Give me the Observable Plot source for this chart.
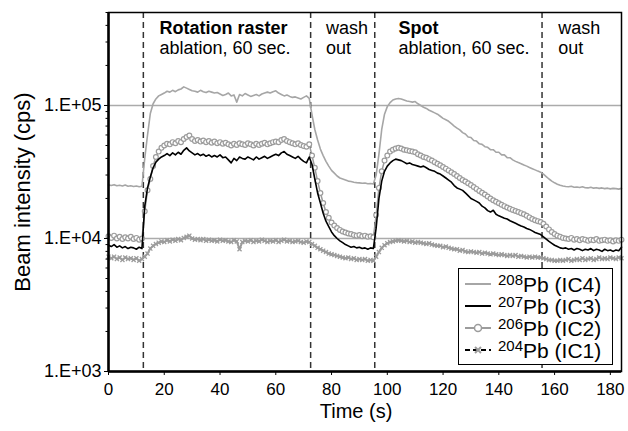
<!DOCTYPE html>
<html>
<head>
<meta charset="utf-8">
<script src="https://cdn.jsdelivr.net/npm/d3@7"></script>
<script src="https://cdn.jsdelivr.net/npm/@observablehq/plot@0.6"></script>
<style>
  body { margin: 0; background: #fff; }
  #wrap { position: relative; width: 628px; height: 431px; font-family: "Liberation Sans", Arial, sans-serif; }
  #legend { position: absolute; left: 458px; top: 268px; width: 155px; height: 97px; box-sizing: border-box;
            border: 1.5px solid #000; background: #fff; padding-top: 4px; }
  .lrow { display: flex; align-items: center; height: 22px; font-size: 21px; line-height: 21px; color: #000; white-space: nowrap; }
  .lrow svg { flex: none; margin-left: 3px; margin-right: 4px; }
  .lrow sup { font-size: 15px; vertical-align: 7px; line-height: 0; }
</style>
</head>
<body>
<div id="wrap"></div>
<script>
// time axis: one reading per second, 0..184 s
const time = d3.range(0, 185);

// signals in thousands of cps (kcps)
const pb208 = [
  25.3, 25.0, 25.4, 24.9, 25.1, 24.8, 25.2, 24.7, 24.9, 24.6, 24.8, 24.5, 24.7,
  40, 60, 87, 103, 112, 118, 121,
  124, 128, 126, 130, 127, 131, 133, 138, 135, 132, 129, 128, 126, 130, 127, 125, 128, 126, 124, 125,
  122, 119, 121, 124, 118, 120, 106, 121, 118, 123, 120, 117, 119, 121, 118, 122, 124, 126, 124, 127,
  129, 124, 121, 118, 120, 117, 115, 116, 114, 112, 115, 118, 113,
  85, 66, 55, 47, 42, 38, 35, 32.5, 31, 29.5, 28.5, 28, 27.5, 27, 26.8, 26.5, 26.3, 26.2, 26.0, 26.1, 25.8, 25.9, 25.7,
  30, 43, 66, 86, 98, 105, 110, 112, 113,
  112, 110, 108, 107, 106, 107, 103, 100, 97, 95, 92, 90, 88, 86, 83, 80, 78, 76, 73, 70,
  67.5, 65.5, 62.5, 61, 58, 57.5, 54.5, 54, 51.5, 51, 49, 48.5, 46.5, 46.5, 44.5, 44.5, 42.5, 42.5, 40.5, 40.5,
  39, 38, 37.2, 36.5, 35.7, 35, 34.2, 33.5, 32.8, 32.1, 31.5,
  30.5, 29.2, 28, 27, 26.2, 25.6, 25.1,
  24.8, 24.6, 24.5, 24.7, 24.3, 24.4, 24.2, 24.5, 24.1, 24.0, 24.3, 23.9, 24.1, 23.8, 24.0, 23.7, 23.9, 23.6, 23.8, 23.7, 23.5, 23.8
];
const pb207 = [
  8.9, 8.7, 9.0, 8.6, 8.8, 8.5, 8.7, 8.4, 8.6, 8.5, 8.3, 8.6, 8.4,
  17.5, 24, 29, 34, 37.5, 39.5, 41,
  42, 43.5, 42, 44, 42.5, 44.5, 43, 46, 48, 45.5, 44, 42.5, 43.5, 42, 43, 41.5, 42.5, 41, 42, 41,
  42.5, 40.5, 41, 39, 37, 40, 38.5, 41, 40, 39.5, 41, 40, 39, 41, 39.5, 40.5, 41.5, 40, 41, 42,
  43, 42, 44, 45, 43, 42, 41, 40, 41.5, 39.5, 38, 37, 41,
  36, 28, 22, 18.5, 15.5, 13.5, 12.3, 11.2, 10.5, 10, 9.6, 9.3, 9.0, 8.8, 8.6, 8.7, 8.5, 8.6, 8.4, 8.5, 8.3, 8.5, 8.4,
  12, 20, 27, 32, 35, 37, 38.5, 39.5, 39,
  38.5, 37.5, 36.5, 37, 36, 35.5, 35, 34.5, 35, 34, 33, 32.5, 32, 31, 30.5, 29.5, 28.5, 27.5, 26.5, 25,
  24, 23.5, 23, 22, 21, 20, 19.5, 19, 18.5, 17.5, 17, 16.2, 15.8, 16.3, 15.2, 14.8, 14.5, 14.2, 14.0, 13.6,
  13.3, 13.0, 12.7, 12.4, 12.2, 11.9, 11.7, 11.4, 11.1, 10.9, 10.7,
  10.3, 9.9, 9.5, 9.2, 8.9, 8.7, 8.5,
  8.4, 8.5, 8.3, 8.4, 8.2, 8.4, 8.3, 8.1, 8.3, 8.2, 8.4, 8.1, 8.3, 8.2, 8.0, 8.3, 8.1, 8.2, 8.0, 8.2, 8.1, 8.6
];
const pb206 = [
  10.4, 10.1, 10.5, 10.0, 10.3, 9.9, 10.2, 10.0, 10.3, 9.9, 10.1, 9.8, 10.0,
  16, 23, 28, 35, 41, 45, 48,
  50, 51.5, 51, 53, 52, 54, 53, 56, 58, 59.5, 56, 54, 55, 53.5, 54.5, 53, 54, 52.5, 53.5, 52,
  53, 51.5, 52.5, 51, 50, 51.5, 50.5, 52, 51, 50.5, 52, 51, 50, 51.5, 50.5, 51.5, 52.5, 51, 52, 53,
  53.5, 53, 55, 56, 54, 53, 52, 51, 52, 50.5, 49.5, 49, 51,
  42, 34, 27, 22, 18.5, 15.8, 14.3, 13.2, 12.5, 12.0, 11.6, 11.3, 11.1, 10.9, 10.8, 10.6, 10.5, 10.6, 10.4, 10.5, 10.3, 10.4, 10.2,
  15, 24, 32, 38.5, 42, 45, 46.5, 47.5, 48,
  47.5, 46.5, 46, 45.5, 45, 44.5, 43, 42, 41, 40.5, 39.5, 38.5, 37.5, 36.5, 35.5, 34.5, 33.5, 32.5, 31.5, 30.5,
  29.5, 28.5, 27.5, 26.8, 26, 25.2, 24.4, 23.6, 22.8, 22.1, 21.4, 20.7, 20.0, 19.4, 18.9, 18.4, 17.9, 17.5, 17.1, 16.7,
  16.4, 16.1, 15.8, 15.5, 15.2, 14.8, 14.4, 14.0, 13.7, 13.5, 13.3,
  12.9, 12.3, 11.7, 11.2, 10.8, 10.5, 10.3,
  10.1, 10.0, 9.9, 10.1, 9.8, 9.9, 9.7, 9.9, 9.8, 9.6, 9.8, 9.7, 9.9, 9.6, 9.7, 9.8, 9.6, 9.7, 9.5, 9.7, 9.6, 9.8
];
const pb204 = [
  7.3, 7.1, 7.3, 7.0, 7.2, 6.9, 7.2, 7.0, 7.1, 6.9, 7.1, 6.8, 7.0,
  7.3, 7.7, 8.4, 8.8, 9.1, 9.3, 9.5,
  9.4, 9.7, 9.5, 9.8, 9.6, 9.9, 9.7, 10.1, 10.3, 10.5, 10.0, 9.8, 9.9, 9.7, 9.9, 9.6, 9.8, 9.6, 9.7, 9.5,
  9.8, 9.6, 9.7, 9.5, 9.4, 9.7, 9.5, 8.3, 9.4, 9.6, 9.5, 9.7, 9.4, 9.6, 9.5, 9.8, 9.6, 9.4, 9.6, 9.5,
  9.7, 9.4, 9.6, 9.8, 9.5, 9.6, 9.4, 9.5, 9.6, 9.4, 9.3, 9.5, 9.4,
  9.1, 8.8, 8.5, 8.3, 8.1, 7.9, 7.7, 7.6, 7.5, 7.4, 7.3, 7.2, 7.1, 7.2, 7.0, 7.1, 6.9, 7.0, 6.9, 7.0, 6.8, 6.9, 6.8,
  7.3, 7.9, 8.5, 8.9, 9.2, 9.4, 9.5, 9.6, 9.7,
  9.6, 9.5, 9.6, 9.4, 9.5, 9.3, 9.4, 9.3, 9.2, 9.1, 9.2, 9.0, 8.9, 8.8, 8.8, 8.6, 8.7, 8.5, 8.4, 8.3,
  8.3, 8.1, 8.2, 8.0, 7.9, 8.0, 7.9, 7.8, 7.9, 7.7, 7.8, 7.7, 7.6, 7.7, 7.6, 7.5, 7.6, 7.5, 7.4, 7.5,
  7.4, 7.5, 7.3, 7.4, 7.3, 7.2, 7.3, 7.2, 7.3, 7.2, 7.2,
  7.1, 7.0, 6.9, 6.9, 6.8, 6.8, 6.9,
  6.8, 6.9, 7.0, 6.8, 6.9, 7.0, 6.9, 7.1, 6.9, 7.0, 7.1, 6.9, 7.0, 7.2, 7.0, 7.1, 7.0, 7.2, 7.1, 7.0, 7.2, 7.1
];

// phase boundaries (s) and annotations
const phaseBounds = [12.5, 72.5, 95.5, 155.5];
const annotX = [18.3, 78, 104, 161.3];
const annotLine1 = ["Rotation raster", "wash", "Spot", "wash"];
const annotBold = [true, false, true, false];
const annotLine2 = ["ablation, 60 sec.", "out", "ablation, 60 sec.", "out"];

// axes
const xTicks = [0, 20, 40, 60, 80, 100, 120, 140, 160, 180];
const yTicks = [1e3, 1e4, 1e5];
const yTickLabels = ["1.E+03", "1.E+04", "1.E+05"];
const gridLines = [1e4, 1e5];

// legend
const legendIsotopes = ["208", "207", "206", "204"];
const legendDetectors = ["IC4", "IC3", "IC2", "IC1"];

const N = time.length;
for (const [name, arr] of [["pb208", pb208], ["pb207", pb207], ["pb206", pb206], ["pb204", pb204]]) {
  if (arr.length !== N) throw new Error(name + " has " + arr.length + " values, expected " + N);
}
const rows = arr => arr.map((v, i) => ({t: time[i], v: v * 1000}));
const d208 = rows(pb208), d207 = rows(pb207), d206 = rows(pb206), d204 = rows(pb204);

const minorTicks = [];
for (const dec of [1e3, 1e4, 1e5]) for (let m = 2; m <= 9; m++) if (dec * m <= 5e5) minorTicks.push(dec * m);

const annots = annotX.map((x, i) => ({x, l1: annotLine1[i], l2: annotLine2[i], bold: annotBold[i]}));

const grey = "#9c9c9c";
const plot = Plot.plot({
  width: 628,
  height: 431,
  marginLeft: 108,
  marginRight: 7,
  marginTop: 12,
  marginBottom: 60,
  style: {fontFamily: "Liberation Sans, Arial, sans-serif", background: "white", color: "black"},
  x: {domain: [0, 184]},
  y: {type: "log", domain: [1e3, 5e5]},
  marks: [
    Plot.ruleY(gridLines, {stroke: "#ababab", strokeWidth: 1.5}),
    Plot.ruleX(phaseBounds, {stroke: "#333", strokeWidth: 1.5, strokeDasharray: "6,4"}),
    // 208Pb
    Plot.line(d208, {x: "t", y: "v", stroke: "#a6a6a6", strokeWidth: 1.6}),
    // 204Pb
    Plot.line(d204, {x: "t", y: "v", stroke: grey, strokeWidth: 2}),
    Plot.dot(d204, {x: "t", y: "v", symbol: "times", r: 2, stroke: grey, strokeWidth: 1.3}),
    // 206Pb
    Plot.line(d206, {x: "t", y: "v", stroke: grey, strokeWidth: 1.5}),
    Plot.dot(d206, {x: "t", y: "v", symbol: "circle", r: 2.4, stroke: grey, fill: "white", strokeWidth: 1.2}),
    // 207Pb
    Plot.line(d207, {x: "t", y: "v", stroke: "black", strokeWidth: 1.6}),
    // frame
    Plot.frame({stroke: "black", strokeWidth: 1.5}),
    Plot.ruleX([0], {stroke: "black", strokeWidth: 2.5}),
    Plot.ruleY([1e3], {stroke: "black", strokeWidth: 2.5}),
    // axes
    Plot.axisX({ticks: xTicks, tickSize: 4, tickPadding: 7, fontSize: 17, label: null, tickFormat: d => String(d)}),
    Plot.axisY({ticks: minorTicks, tickSize: 2.5, tickFormat: () => "", label: null}),
    Plot.axisY({ticks: yTicks, tickSize: 4, tickPadding: 3, fontSize: 18, label: null,
                tickFormat: d => yTickLabels[yTicks.indexOf(d)]}),
    // axis titles
    Plot.text(["Beam intensity (cps)"], {frameAnchor: "left", dx: -86, rotate: -90, fontSize: 22, fill: "black", textAnchor: "middle"}),
    Plot.text(["Time (s)"], {frameAnchor: "bottom", dy: 40, dx: -9, fontSize: 20, fill: "black", lineAnchor: "middle"}),
    // annotations
    Plot.text(annots.filter(d => d.bold), {x: "x", text: "l1", frameAnchor: "top", dy: 21, lineAnchor: "bottom", textAnchor: "start", fontSize: 18, fontWeight: "bold", fill: "black"}),
    Plot.text(annots.filter(d => !d.bold), {x: "x", text: "l1", frameAnchor: "top", dy: 21, lineAnchor: "bottom", textAnchor: "start", fontSize: 18, fill: "black"}),
    Plot.text(annots, {x: "x", text: "l2", frameAnchor: "top", dy: 41, lineAnchor: "bottom", textAnchor: "start", fontSize: 18, fill: "black"})
  ]
});

const wrap = document.getElementById("wrap");
wrap.appendChild(plot);

// legend (HTML overlay)
const swatch = i => {
  if (i === 0) return `<line x1="3" x2="29" y1="11" y2="11" stroke="#a6a6a6" stroke-width="2"/>`;
  if (i === 1) return `<line x1="3" x2="29" y1="11" y2="11" stroke="black" stroke-width="2"/>`;
  if (i === 2) return `<line x1="3" x2="29" y1="11" y2="11" stroke="${grey}" stroke-width="2"/><circle cx="16" cy="11" r="3.5" fill="white" stroke="${grey}" stroke-width="1.5"/>`;
  return `<line x1="3" x2="29" y1="11" y2="11" stroke="black" stroke-width="2" stroke-dasharray="5,3"/><path d="M13,8L19,14M19,8L13,14" stroke="${grey}" stroke-width="2"/>`;
};
const legend = document.createElement("div");
legend.id = "legend";
legend.innerHTML = legendIsotopes.map((iso, i) =>
  `<div class="lrow"><svg width="32" height="22">${swatch(i)}</svg><span><sup>${iso}</sup>Pb (${legendDetectors[i]})</span></div>`
).join("");
wrap.appendChild(legend);
</script>
</body>
</html>
